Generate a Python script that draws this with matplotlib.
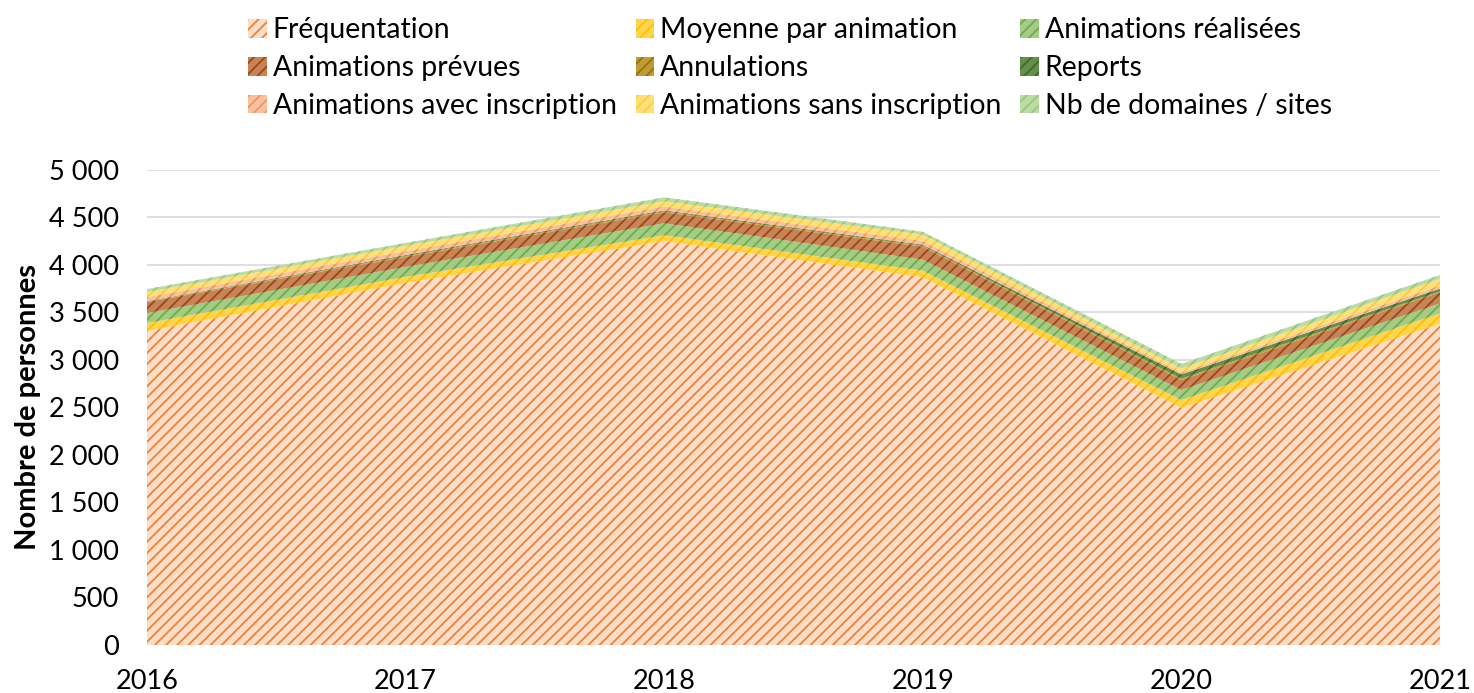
import numpy as np
import matplotlib
matplotlib.use("Agg")
import matplotlib.pyplot as plt

plt.rcParams['font.family'] = ['Lato', 'DejaVu Sans']
plt.rcParams['hatch.linewidth'] = 1.3

years = [2016, 2017, 2018, 2019, 2020, 2021]

# values (stacked from bottom to top)
frequentation = [3305, 3810, 4250, 3870, 2495, 3380]
moyenne = [84, 65, 63, 70, 84, 110]
realisees = [105, 105, 126, 116, 105, 105]
prevues = [116, 105, 116, 137, 105, 116]
annulations = [5, 10, 10, 10, 15, 10]
reports = [5, 10, 10, 10, 45, 30]
avec_inscription = [42, 42, 42, 42, 20, 32]
sans_inscription = [53, 53, 53, 63, 40, 70]
domaines = [32, 32, 42, 32, 50, 42]

labels = ["Fréquentation", "Moyenne par animation", "Animations réalisées",
          "Animations prévues", "Annulations", "Reports",
          "Animations avec inscription", "Animations sans inscription",
          "Nb de domaines / sites"]
series = [frequentation, moyenne, realisees, prevues, annulations, reports,
          avec_inscription, sans_inscription, domaines]
# (background, stripe colour)
colors = [("#FBDDC8", "#EE8236"), ("#FFD44F", "#FFC000"), ("#A3CD86", "#70AD47"),
          ("#C7835A", "#9E480E"), ("#BE9C3A", "#997300"), ("#64904A", "#43682B"),
          ("#F7C2A2", "#F1975A"), ("#FFE07A", "#FFCD33"), ("#BCDCA6", "#9BC57F")]

fig = plt.figure(figsize=(14.74, 6.93), dpi=100)
ax = fig.add_axes([0.0997, 0.0693, 0.8772, 0.6854])

x = np.array(years)
base = np.zeros(len(years))
handles = []
for lab, vals, (face, stripe) in zip(labels, series, colors):
    top = base + np.array(vals)
    h = ax.fill_between(x, base, top, facecolor=face, edgecolor=stripe,
                        hatch="///", linewidth=0, label=lab, zorder=2)
    handles.append(h)
    base = top

ax.set_xlim(2016, 2021)
ax.set_ylim(0, 5000)
ax.set_yticks(range(0, 5001, 500))
ax.set_yticklabels([f"{v:,}".replace(",", " ") for v in range(0, 5001, 500)])
ax.set_xticks(years)
ax.grid(axis="y", color="#D9D9D9", linewidth=1.2, zorder=0)
ax.set_axisbelow(True)
for s in ax.spines.values():
    s.set_visible(False)
ax.tick_params(axis="y", length=0, labelsize=19.5, pad=20)
ax.tick_params(axis="x", length=0, labelsize=19.5, pad=17)
ax.set_ylabel("Nombre de personnes", fontsize=21, fontweight="bold", labelpad=6)

# legend is filled column-wise, so reorder to read row by row
order = [0, 3, 6, 1, 4, 7, 2, 5, 8]
fig.legend([handles[i] for i in order], [labels[i] for i in order],
           ncol=3, loc="upper center", bbox_to_anchor=(0.536, 1.012),
           frameon=False, fontsize=20.4, handlelength=0.65, handleheight=0.65,
           handletextpad=0.2, columnspacing=0.68, labelspacing=0.42)

fig.savefig("out.png", dpi=100)
